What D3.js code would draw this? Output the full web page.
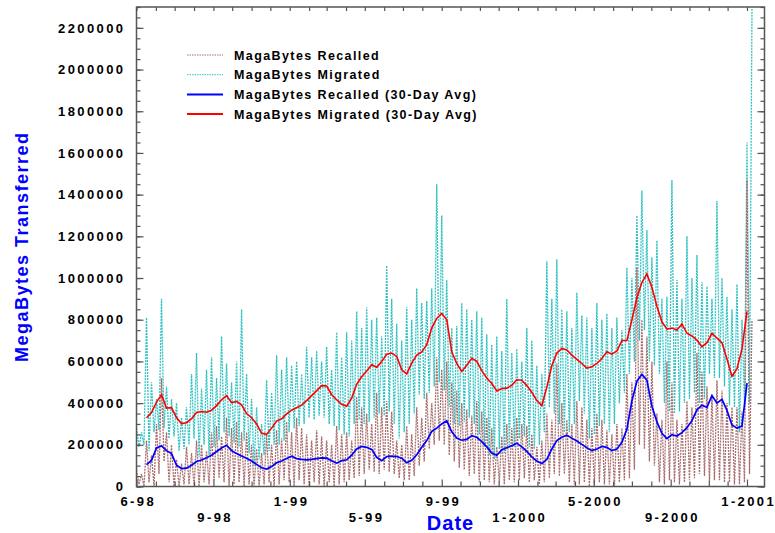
<!DOCTYPE html>
<html>
<head>
<meta charset="utf-8">
<script src="https://cdn.jsdelivr.net/npm/d3@7"></script>
<style>
  body { margin: 0; background: #fff; }
  svg { display: block; font-family: "Liberation Sans", Arial, sans-serif; font-weight: bold; }
</style>
</head>
<body>
<svg id="chart" width="775" height="533"></svg>
<script>
// Values in thousands of MegaBytes. Raw series: one reading every 4 days from 1998-05-01.
const migrated = [
  280,190,260,200, 810,170,500,260, 420,270,900,280, 480,230,420,240,
  400,170,330,180, 380,200,540,230, 640,140,470,200, 560,150,620,190,
  520,220,720,260, 590,240,500,210, 600,190,850,220, 540,160,420,100,
  380,130,300,150, 510,170,450,200, 630,200,560,220, 620,260,580,280,
  600,290,540,300, 670,330,620,320, 650,340,600,330, 670,300,560,290,
  740,270,620,250, 740,240,700,300, 840,320,760,300, 860,310,800,330,
  810,350,720,340, 1060,360,900,300, 780,230,700,260, 860,300,800,350,
  950,440,880,420, 890,450,950,480, 1450,500,1300,460, 990,380,760,300,
  770,290,880,310, 850,330,800,300, 840,250,810,190, 730,150,680,130,
  720,180,650,160, 900,200,640,190, 660,230,600,240, 760,190,700,180,
  580,200,540,260, 1080,380,900,350, 1090,300,850,260, 840,260,760,300,
  930,410,820,350, 810,230,760,250, 880,290,800,300, 830,260,760,300,
  810,400,750,450, 1050,540,1000,600, 1300,700,1420,750, 1230,600,1100,580,
  1180,540,900,400, 910,360,1470,350, 990,360,900,400, 1200,420,1000,450,
  1110,400,980,420, 960,540,900,520, 1370,520,1000,480, 910,390,850,380,
  970,260,800,400, 1650,400,2290
];

const recalled = [
  80,10,60,0, 220,20,150,0, 300,60,520,120, 260,20,200,0,
  130,0,110,10, 190,10,160,0, 220,0,200,20, 170,10,260,30,
  290,40,240,20, 330,0,280,10, 310,20,260,0, 260,10,200,0,
  180,0,160,10, 250,20,200,0, 270,10,230,30, 310,20,260,0,
  330,30,280,10, 250,0,220,20, 270,10,240,0, 220,20,200,0,
  290,10,250,20, 260,30,220,40, 430,50,380,60, 350,80,300,70,
  450,60,380,80, 410,70,360,60, 220,40,200,30, 290,30,250,50,
  380,100,330,120, 450,180,400,200, 620,220,560,200, 600,150,500,120,
  460,90,400,80, 370,50,340,60, 410,20,360,30, 330,20,280,10,
  190,20,240,10, 300,30,280,20, 330,30,300,40, 290,20,250,30,
  190,10,220,20, 350,40,320,60, 590,50,400,60, 320,20,300,10,
  410,10,380,20, 320,0,280,10, 350,20,320,10, 270,10,250,0,
  300,20,280,30, 540,40,500,80, 1050,200,800,180, 720,120,600,100,
  350,20,320,10, 600,30,500,20, 320,10,300,20, 410,30,380,40,
  640,60,550,50, 480,20,440,30, 510,30,460,20, 400,20,380,10,
  380,10,360,20, 1470,60,800
];

// 30-day averages: one reading every 8 days from 1998-05-17.
const migratedAvg = [
  330,355,405,440,376,378,330,302,306,325,355,360,356,366,388,416,436,402,408,392,
  350,330,300,255,250,280,314,325,348,366,378,390,412,436,460,484,482,440,416,394,
  385,424,490,526,554,584,572,600,634,640,624,560,540,592,630,645,680,760,806,830,
  800,646,590,552,582,615,600,556,520,494,458,470,472,485,512,510,484,452,412,388,
  476,580,640,662,655,630,610,590,568,574,590,614,646,635,650,700,700,800,905,978,
  1020,955,865,790,755,760,750,780,735,722,702,670,690,735,712,690,612,528,565,660,
  840
];

const recalledAvg = [
  105,125,185,195,172,158,102,86,88,102,120,127,138,150,168,185,198,172,158,146,
  136,122,106,90,84,96,114,122,134,145,134,130,128,130,134,137,136,124,112,124,
  128,150,180,192,188,178,140,124,144,146,144,136,114,126,152,188,220,264,280,300,
  315,262,232,222,226,244,236,215,190,160,150,176,186,196,208,190,168,142,122,110,
  130,180,220,236,246,232,218,202,186,172,180,192,188,172,180,212,275,410,505,538,
  510,385,310,255,230,248,242,258,282,316,368,390,380,436,400,418,365,295,280,290,
  496
];

const yTicks = [0,200,400,600,800,1000,1200,1400,1600,1800,2000,2200];
const yTickLabels = ["0","200000","400000","600000","800000","1000000","1200000",
  "1400000","1600000","1800000","2000000","2200000"];
const xLabels = [
  ["1998-05-01", "6-98"], ["1998-09-01", "9-98"], ["1999-01-01", "1-99"],
  ["1999-05-01", "5-99"], ["1999-09-01", "9-99"], ["2000-01-01", "1-2000"],
  ["2000-05-01", "5-2000"], ["2000-09-01", "9-2000"], ["2001-01-01", "1-2001"]
];
const seriesNames = ["MagaBytes Recalled", "MagaBytes Migrated",
  "MagaBytes Recalled (30-Day Avg)", "MagaBytes Migrated (30-Day Avg)"];

const svg = d3.select("#chart");
const plotLeft = 136.5, plotRight = 764.5, plotTop = 7, plotBottom = 486.5;

const parse = d3.timeParse("%Y-%m-%d");
const start = parse("1998-05-01");
const x = d3.scaleTime()
  .domain([start, parse("2001-01-29")])
  .range([plotLeft, plotRight]);
const y = d3.scaleLinear()
  .domain([0, 2300])
  .range([plotBottom, plotTop]);

const rawDates = migrated.map((d, i) => d3.timeDay.offset(start, i * 4));
const avgDates = migratedAvg.map((d, i) => d3.timeDay.offset(start, 16 + i * 8));

const line = d3.line()
  .x(d => x(d[0]))
  .y(d => y(d[1]));

const colors = {
  recalled: "#a86e6e",
  migrated: "#30c2c2",
  recalledAvg: "#0000ff",
  migratedAvg: "#ff0000"
};

const plot = svg.append("g");

plot.append("path")
  .attr("d", line(rawDates.map((d, i) => [d, migrated[i]])))
  .attr("fill", "none")
  .attr("stroke", colors.migrated)
  .attr("stroke-width", 1.3)
  .attr("stroke-dasharray", "2,1");

plot.append("path")
  .attr("d", line(rawDates.map((d, i) => [d, recalled[i]])))
  .attr("fill", "none")
  .attr("stroke", colors.recalled)
  .attr("stroke-width", 1.3)
  .attr("stroke-dasharray", "2,1");

plot.append("path")
  .attr("d", line(avgDates.map((d, i) => [d, recalledAvg[i]])))
  .attr("fill", "none")
  .attr("stroke", colors.recalledAvg)
  .attr("stroke-width", 1.7);

plot.append("path")
  .attr("d", line(avgDates.map((d, i) => [d, migratedAvg[i]])))
  .attr("fill", "none")
  .attr("stroke", colors.migratedAvg)
  .attr("stroke-width", 1.6);

// axes: ticks point inward on all four sides
const frameColor = "#555";
const minorY = d3.range(0, 2301, 50);
const months = d3.timeMonth.range(start, x.domain()[1]);
const labelMap = new Map(xLabels.map(d => [parse(d[0]).getTime(), d[1]]));

function styleAxis(g) {
  g.select(".domain").remove();
  g.selectAll("line").attr("stroke", frameColor).attr("stroke-width", 1.2);
}

svg.append("g")
  .attr("transform", `translate(${plotLeft},0)`)
  .call(d3.axisLeft(y).tickValues(minorY).tickSize(-4).tickFormat(""))
  .call(styleAxis);

svg.append("g")
  .attr("transform", `translate(${plotRight},0)`)
  .call(d3.axisRight(y).tickValues(minorY).tickSize(-4).tickFormat(""))
  .call(styleAxis);

svg.append("g")
  .attr("transform", `translate(${plotRight},0)`)
  .call(d3.axisRight(y).tickValues(yTicks).tickSize(-7).tickFormat(""))
  .call(styleAxis);

svg.append("g")
  .attr("transform", `translate(${plotLeft},0)`)
  .call(d3.axisLeft(y).tickValues(yTicks).tickSize(-7).tickPadding(11)
    .tickFormat((d, i) => yTickLabels[i]))
  .call(styleAxis)
  .call(g => g.selectAll("text")
    .attr("fill", "#000")
    .attr("font-size", "13px")
    .attr("font-family", "Liberation Sans, Arial, sans-serif")
    .attr("font-weight", "bold")
    .attr("letter-spacing", "2.4px"));

svg.append("g")
  .attr("transform", `translate(0,${plotTop})`)
  .call(d3.axisTop(x).tickValues(months).tickSize(-4).tickFormat(""))
  .call(styleAxis);

svg.append("g")
  .attr("transform", `translate(0,${plotBottom})`)
  .call(d3.axisBottom(x).tickValues(months).tickSize(-5)
    .tickFormat(d => labelMap.get(d.getTime()) || ""))
  .call(styleAxis)
  .call(g => {
    let row = 0;
    g.selectAll(".tick").each(function (d) {
      const label = labelMap.get(d.getTime());
      const t = d3.select(this);
      if (!label) { t.select("text").remove(); return; }
      t.select("line").attr("y2", -7);
      t.select("text")
        .attr("y", row % 2 ? 35 : 19.5)
        .attr("dy", 0)
        .attr("dx", "1.2px")
        .attr("fill", "#000")
        .attr("font-size", "13px")
        .attr("font-family", "Liberation Sans, Arial, sans-serif")
        .attr("font-weight", "bold")
        .attr("letter-spacing", "2.4px");
      row++;
    });
  });

svg.append("rect")
  .attr("x", plotLeft)
  .attr("y", plotTop)
  .attr("width", plotRight - plotLeft)
  .attr("height", plotBottom - plotTop)
  .attr("fill", "none")
  .attr("stroke", frameColor)
  .attr("stroke-width", 1.5);

// axis titles
svg.append("text")
  .attr("transform", `translate(27.5,${(plotTop + plotBottom) / 2}) rotate(-90)`)
  .attr("text-anchor", "middle")
  .attr("fill", "#0000ff")
  .attr("font-size", "18px")
  .attr("letter-spacing", "1.5px")
  .text("MegaBytes Transferred");

svg.append("text")
  .attr("x", (plotLeft + plotRight) / 2)
  .attr("y", 530)
  .attr("text-anchor", "middle")
  .attr("fill", "#0000ff")
  .attr("font-size", "20px")
  .attr("letter-spacing", "1px")
  .text("Date");

// legend
const legendRows = [
  { name: seriesNames[0], color: colors.recalled, dash: "1.5,1", width: 1 },
  { name: seriesNames[1], color: colors.migrated, dash: "1.5,1", width: 1 },
  { name: seriesNames[2], color: colors.recalledAvg, dash: null, width: 2 },
  { name: seriesNames[3], color: colors.migratedAvg, dash: null, width: 2 }
];

const legend = svg.append("g").attr("transform", "translate(187,55)");

legend.selectAll("line")
  .data(legendRows)
  .enter()
  .append("line")
  .attr("x1", 0)
  .attr("x2", 36)
  .attr("y1", (d, i) => i * 19.7)
  .attr("y2", (d, i) => i * 19.7)
  .attr("stroke", d => d.color)
  .attr("stroke-width", d => d.width)
  .attr("stroke-dasharray", d => d.dash);

legend.selectAll("text")
  .data(legendRows)
  .enter()
  .append("text")
  .attr("x", 47)
  .attr("y", (d, i) => i * 19.7 + 4.5)
  .attr("font-size", "12.5px")
  .attr("letter-spacing", "1.4px")
  .attr("fill", "#000")
  .text(d => d.name);
</script>
</body>
</html>
